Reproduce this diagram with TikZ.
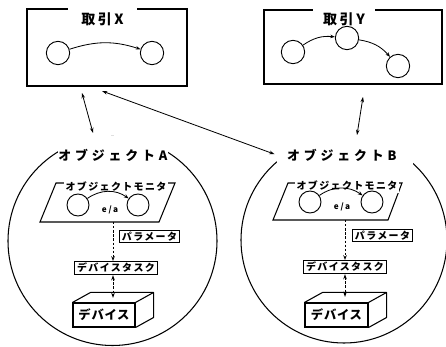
\documentclass[tikz,border=0pt]{standalone}
\usepackage{fontspec}
\usetikzlibrary{arrows.meta}
\newfontfamily\jp{Noto Sans CJK JP}
% bold gothic at a given size with extra letter spacing
\newcommand{\jpfont}[2]{\jp\bfseries\fontsize{#1}{#1}\selectfont\addfontfeature{LetterSpace=#2}}
\tikzset{
    frame/.style={draw, line width=0.9pt},
    state/.style={circle, draw, line width=0.8pt, minimum size=0.7cm, inner sep=0pt},
    tag/.style={draw, line width=0.8pt, inner xsep=2pt, inner ysep=1.5pt, font=\jpfont{8.5}{14}},
    cover/.style={fill=white, inner sep=0pt},
    flow/.style={line width=0.7pt, -{Stealth[length=4pt,width=3pt]}},
    link/.style={line width=0.7pt, {Stealth[length=4.5pt,width=3pt]}-{Stealth[length=4.5pt,width=3pt]}},
    dotted link/.style={link, dash pattern=on 2pt off 1.5pt},
    back/.style={shift={(18,-10)}}
}

\begin{document}
\begin{tikzpicture}[x=0.03cm, y=-0.03cm]
    \useasboundingbox (0,0) rectangle (446,347);

    % transactions
    \node[frame, minimum width=4.8cm, minimum height=2.31cm] (boxX) at (107,47.5) {};
    \node[cover, minimum width=2.07cm, minimum height=0.66cm, font=\jpfont{12}{18}] (titleX) at (102.5,19) {取引X};
    \node[state] (x1) at (58,53) {};
    \node[state] (x2) at (152,53) {};
    \draw[flow] (x1) to[bend left=18] (x2);

    \node[frame, minimum width=5.34cm, minimum height=2.22cm] (boxY) at (353,47) {};
    \node[cover, minimum width=1.86cm, minimum height=0.66cm, font=\jpfont{12}{18}] (titleY) at (344,19) {取引Y};
    \node[state] (y1) at (293,52) {};
    \node[state] (y2) at (347,38) {};
    \node[state] (y3) at (398,66) {};
    \draw[flow] (y1) to[bend left=20] (y2);
    \draw[flow] (y2) to[bend left=20] (y3);

    % objects
    \node[circle, draw, line width=0.9pt, minimum size=6.27cm, inner sep=0pt] (objA) at (112.5,241) {};
    \node[cover, minimum height=1.14cm, font=\jpfont{11}{30}] (lblA) at (113,155) {オブジェクトA};
    \node[circle, draw, line width=0.9pt, minimum size=6.18cm, inner sep=0pt] (objB) at (344,240) {};
    \node[cover, minimum height=1.3cm, text width=4.08cm, align=left, font=\jpfont{11}{30}] (lblB) at (345,155) {\hspace*{0.3cm}オブジェクトB};

    % links between transactions and objects
    \coordinate (xa) at (82,93);
    \coordinate (ax) at (93,133);
    \coordinate (xb) at (102,91);
    \coordinate (ya) at (363,97);
    \coordinate (yb) at (357,135);
    \draw[link] (xa) -- (ax);
    \draw[link, shorten >=2pt] (xb) -- (lblB.west);
    \draw[link] (ya) -- (yb);

    % object A internals
    \coordinate (mA1) at (56,183);
    \coordinate (mA2) at (175,183);
    \coordinate (mA3) at (159,222);
    \coordinate (mA4) at (40,222);
    \draw[frame] (mA1) -- (mA2) -- (mA3) -- (mA4) -- cycle;
    \node[cover, inner xsep=1pt, inner ysep=2pt, font=\jpfont{8.5}{14}] (monA) at (116,187) {オブジェクトモニタ};
    \node[state, minimum size=0.66cm] (a1) at (78,205) {};
    \node[state, minimum size=0.66cm] (a2) at (138,205) {};
    \draw[flow] (a1) to[bend left=35] (a2);
    \node[font=\jpfont{7}{20}, inner sep=0pt] (eaA) at (110,210) {e/a};
    \node[tag] (parA) at (149.5,236.5) {パラメータ};
    \node[tag] (taskA) at (116,268) {デバイスタスク};
    \node[draw, line width=0.9pt, minimum width=1.86cm, minimum height=0.72cm, inner sep=0pt,
          font=\jpfont{10.5}{6}] (devA) at (104,315) {デバイス};
    \draw[frame, line join=round] (devA.north west) -- ([back]devA.north west) -- ([back]devA.north east)
        -- ([back]devA.south east) -- (devA.south east);
    \draw[frame] ([back]devA.north east) -- (devA.north east);
    \coordinate (sA) at (113,222);
    \coordinate (tA) at (113,298);
    \draw[flow, dash pattern=on 2pt off 1.5pt] (sA) -- (taskA.north -| sA);
    \draw[dotted link] (taskA.south -| sA) -- (tA);

    % object B internals
    \coordinate (mB1) at (288,183);
    \coordinate (mB2) at (402,183);
    \coordinate (mB3) at (388,220);
    \coordinate (mB4) at (273,220);
    \draw[frame] (mB1) -- (mB2) -- (mB3) -- (mB4) -- cycle;
    \node[cover, inner xsep=1pt, inner ysep=2pt, font=\jpfont{8.5}{14}] (monB) at (347,186) {オブジェクトモニタ};
    \node[state, minimum size=0.66cm] (b1) at (310,202) {};
    \node[state, minimum size=0.66cm] (b2) at (372,202) {};
    \draw[flow] (b1) to[bend left=35] (b2);
    \node[font=\jpfont{7}{20}, inner sep=0pt] (eaB) at (342,207) {e/a};
    \node[tag] (parB) at (382.5,235.5) {パラメータ};
    \node[tag] (taskB) at (345,267) {デバイスタスク};
    \node[draw, line width=0.9pt, minimum width=1.89cm, minimum height=0.72cm, inner sep=0pt,
          font=\jpfont{10.5}{6}] (devB) at (336.5,315) {デバイス};
    \draw[frame, line join=round] (devB.north west) -- ([back]devB.north west) -- ([back]devB.north east)
        -- ([back]devB.south east) -- (devB.south east);
    \draw[frame] ([back]devB.north east) -- (devB.north east);
    \coordinate (sB) at (345,220);
    \coordinate (tB) at (345,297);
    \draw[flow, dash pattern=on 2pt off 1.5pt] (sB) -- (taskB.north -| sB);
    \draw[dotted link] (taskB.south -| sB) -- (tB);
\end{tikzpicture}
\end{document}
